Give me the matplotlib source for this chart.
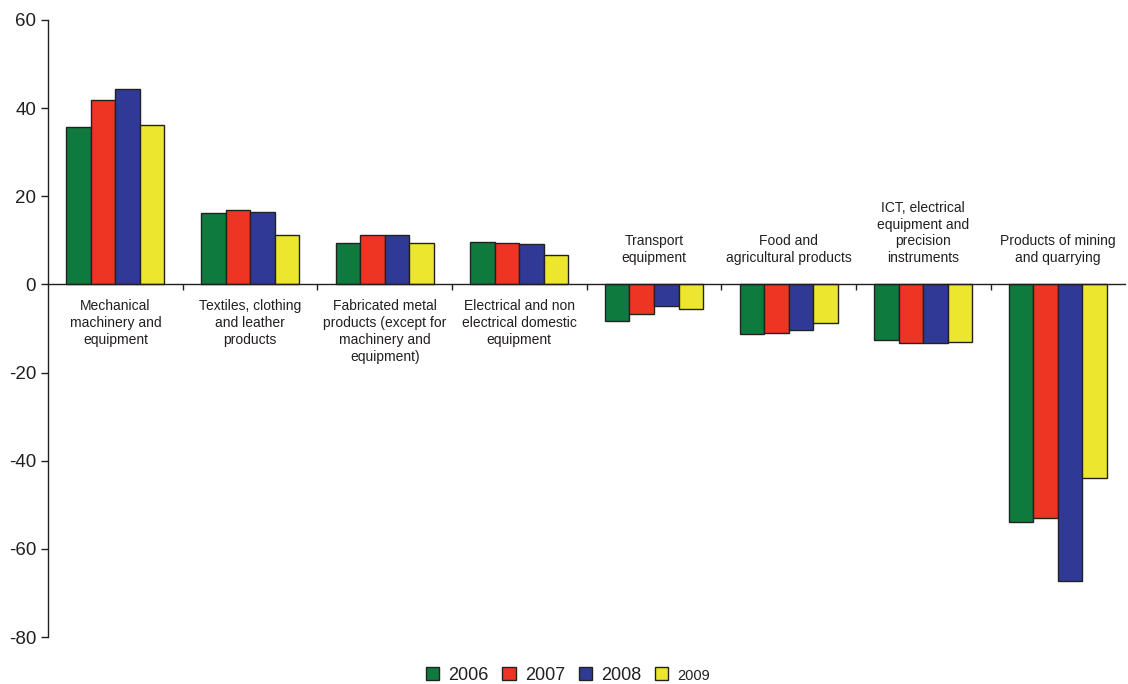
import numpy as np
import matplotlib.pyplot as plt

plt.rcParams['font.family'] = ['Liberation Sans', 'DejaVu Sans']
plt.rcParams['axes.unicode_minus'] = False

categories = ["Mechanical\nmachinery and\nequipment",
              "Textiles, clothing\nand leather\nproducts",
              "Fabricated metal\nproducts (except for\nmachinery and\nequipment)",
              "Electrical and non\nelectrical domestic\nequipment",
              "Transport\nequipment",
              "Food and\nagricultural products",
              "ICT, electrical\nequipment and\nprecision\ninstruments",
              "Products of mining\nand quarrying"]
years = ["2006", "2007", "2008", "2009"]
v2006 = [35.7, 16.2, 9.4, 9.6, -8.3, -11.2, -12.6, -53.9]
v2007 = [41.9, 16.9, 11.2, 9.4, -6.7, -11.0, -13.3, -53.0]
v2008 = [44.4, 16.4, 11.2, 9.2, -4.9, -10.3, -13.3, -67.3]
v2009 = [36.2, 11.2, 9.4, 6.7, -5.6, -8.7, -13.0, -43.9]
colors = ["#0F7A3E", "#EE3524", "#303A96", "#ECE72E"]

txt = "#231F20"
fig = plt.figure(figsize=(11.28, 6.84), dpi=100)
ax = fig.add_axes([0.0426, 0.0687, 0.955, 0.9021])

x = np.arange(len(categories))
w = 0.182
series = [v2006, v2007, v2008, v2009]
for i, (vals, c, yr) in enumerate(zip(series, colors, years)):
    ax.bar(x + (i - 1.5) * w, vals, w, color=c, edgecolor="#222222",
           linewidth=1.0, label=yr, zorder=2)

ax.set_xlim(-0.5, len(categories) - 0.5)
ax.set_ylim(-80, 60)
ax.set_yticks(np.arange(-80, 61, 20))
ax.tick_params(axis='y', labelsize=13.5, colors=txt, length=5, width=1)
ax.spines['top'].set_visible(False)
ax.spines['right'].set_visible(False)
ax.spines['bottom'].set_position(('data', 0))
ax.spines['left'].set_linewidth(1)
ax.spines['bottom'].set_linewidth(1)
ax.spines['left'].set_color(txt)
ax.spines['bottom'].set_color(txt)
ax.set_xticks(np.arange(0.5, len(categories) - 0.5, 1))
ax.set_xticklabels([])
ax.tick_params(axis='x', length=4, width=1, colors=txt, direction='out')

for xi, lab, val in zip(x, categories, v2006):
    if val > 0:
        ax.text(xi, -3.4, lab, ha='center', va='top', fontsize=10,
                color=txt, linespacing=1.25)
    else:
        ax.text(xi, 4.4, lab, ha='center', va='bottom', fontsize=10,
                color=txt, linespacing=1.25)

handles, labels = ax.get_legend_handles_labels()
leg = fig.legend(handles, labels, loc='center',
                 bbox_to_anchor=(568 / 1128, 1 - 675 / 684), ncol=4,
                 frameon=False, fontsize=13, handlelength=0.75,
                 handleheight=0.75, handletextpad=0.5, columnspacing=0.75,
                 borderpad=0.1)
for t in leg.get_texts():
    t.set_color(txt)
leg.get_texts()[3].set_fontsize(10.5)

fig.savefig("out.png", dpi=100)
